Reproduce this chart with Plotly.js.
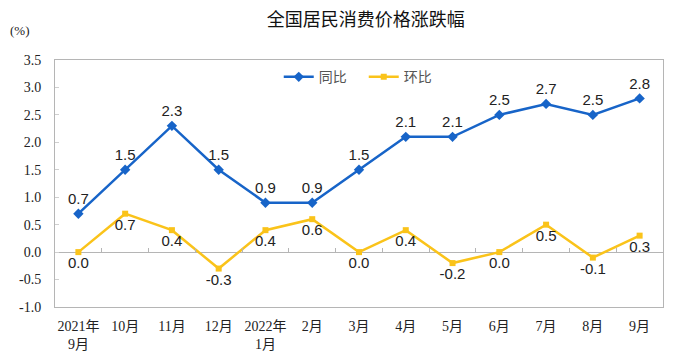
<!DOCTYPE html>
<html>
<head>
<meta charset="utf-8">
<script src="https://cdn.plot.ly/plotly-3.0.1.min.js"></script>
<style>html,body{margin:0;padding:0;background:#fff;}#chart{width:685px;height:362px;}</style>
</head>
<body>
<div id="chart"></div>
<script>
const categories = ["2021年<br>9月","10月","11月","12月","2022年<br>1月","2月","3月","4月","5月","6月","7月","8月","9月"];
const yoy = [0.7, 1.5, 2.3, 1.5, 0.9, 0.9, 1.5, 2.1, 2.1, 2.5, 2.7, 2.5, 2.8];
const mom = [0.0, 0.7, 0.4, -0.3, 0.4, 0.6, 0.0, 0.4, -0.2, 0.0, 0.5, -0.1, 0.3];
const yTicks = [-1.0, -0.5, 0.0, 0.5, 1.0, 1.5, 2.0, 2.5, 3.0, 3.5];

const idx = categories.map((_, i) => i);
const labelFont = {family: "Liberation Sans, Arial, sans-serif", size: 15, color: "#222"};
const serif = "Liberation Serif, Times New Roman, Noto Sans CJK SC, serif";
const cjk = "Noto Sans CJK SC, sans-serif";

const traces = [
  {
    x: idx, y: yoy, name: "同比", type: "scatter", mode: "lines+markers+text",
    line: {color: "#1764C8", width: 2.5},
    marker: {symbol: "diamond", size: 8, color: "#1764C8"},
    text: yoy.map(v => v.toFixed(1)), textposition: "top center",
    textfont: labelFont, hoverinfo: "skip", cliponaxis: false
  },
  {
    x: idx, y: mom, name: "环比", type: "scatter", mode: "lines+markers+text",
    line: {color: "#FAC31A", width: 2.5},
    marker: {symbol: "square", size: 6, color: "#FAC31A"},
    text: mom.map(v => v.toFixed(1)), textposition: "bottom center",
    textfont: labelFont, hoverinfo: "skip", cliponaxis: false
  },
  {x: [], y: [], xaxis: "x2", type: "scatter", showlegend: false, hoverinfo: "skip"}
];

const layout = {
  width: 685, height: 362,
  margin: {l: 55, r: 22, t: 60, b: 54.5},
  paper_bgcolor: "#fff", plot_bgcolor: "#fff",
  title: {text: "全国居民消费价格涨跌幅", font: {family: cjk, size: 18, color: "#111"},
          x: 0.534, xanchor: "center", y: 0.945, yanchor: "middle", yref: "container"},
  showlegend: true,
  legend: {orientation: "h", x: 0.368, xanchor: "left", y: 0.995, yanchor: "top",
           font: {family: cjk, size: 14, color: "#555"}, bgcolor: "rgba(0,0,0,0)",
           entrywidth: 40, entrywidthmode: "pixels", tracegroupgap: 0},
  xaxis: {
    range: [-0.5, 12.5], tickmode: "array", tickvals: idx, ticktext: categories,
    showgrid: false, zeroline: false, showline: true, mirror: true, linecolor: "#b5b5b5", linewidth: 1,
    ticks: "", ticklabelstandoff: 6, tickfont: {family: serif, size: 14, color: "#222"}, fixedrange: true
  },
  xaxis2: {
    overlaying: "x", anchor: "free", position: 1/4.5, range: [-0.5, 12.5],
    tickmode: "array", tickvals: idx.slice(0, -1).map(i => i + 0.5),
    ticks: "inside", ticklen: 4, tickcolor: "#b5b5b5", showticklabels: false,
    showline: false, showgrid: false, zeroline: false
  },
  yaxis: {
    range: [-1.0, 3.5], tickmode: "array", tickvals: yTicks, ticktext: yTicks.map(v => v.toFixed(1)),
    showgrid: false, zeroline: true, zerolinecolor: "#b5b5b5", zerolinewidth: 1,
    showline: true, mirror: true, linecolor: "#b5b5b5", linewidth: 1,
    ticks: "inside", ticklen: 4, tickcolor: "#cfcfcf", ticklabelstandoff: 10,
    tickfont: {family: serif, size: 14, color: "#222"}, fixedrange: true
  },
  annotations: [
    {text: "(%)", xref: "paper", yref: "paper", x: -0.058, y: 1.12, xanchor: "center", yanchor: "middle",
     showarrow: false, font: {family: serif, size: 13, color: "#222"}}
  ]
};

Plotly.newPlot("chart", traces, layout, {staticPlot: true, displayModeBar: false});
</script>
</body>
</html>
